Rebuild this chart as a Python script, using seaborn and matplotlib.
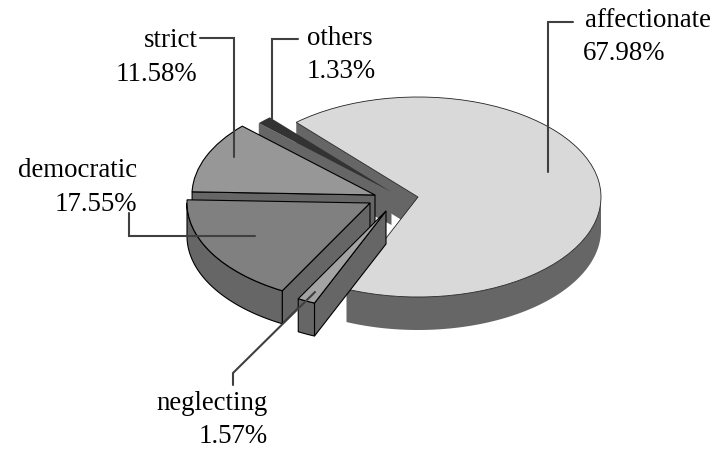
import numpy as np
import matplotlib
matplotlib.use('Agg')
import matplotlib.pyplot as plt
import seaborn as sns

labels = ['affectionate', 'others', 'strict', 'democratic', 'neglecting']
shares = [67.98, 1.33, 11.58, 17.55, 1.57]
percent_text = ['67.98%', '1.33%', '11.58%', '17.55%', '1.57%']

sns.set_theme(style='white')
plt.rcParams['font.family'] = ['Liberation Serif']

W, H = 717, 452
SQUASH = 100 / 183   # ellipse tilt
RADIUS = 183
DEPTH = 33 / SQUASH

# apex of every exploded slice in picture pixels
apex_px = {'affectionate': (418, 198), 'others': (391.5, 193), 'strict': (375, 196),
           'democratic': (370, 204), 'neglecting': (386, 212)}
top_colors = {'affectionate': '#d9d9d9', 'others': '#333333', 'strict': '#979797',
              'democratic': '#808080', 'neglecting': '#a3a3a3'}
side_color = '#666666'
draw_order = ['affectionate', 'others', 'strict', 'democratic', 'neglecting']


def yy(py):
    return (H - py) / SQUASH


def pt(x, py):
    return x, yy(py)


fig = plt.figure(figsize=(W / 100, H / 100), dpi=100)
ax = fig.add_axes([0, 0, 1, 1])
wedges, _ = ax.pie(shares, startangle=-113, counterclock=True, radius=RADIUS,
                   colors=[top_colors[k] for k in labels])
ax.set_aspect('auto')
ax.set_xlim(0, W)
ax.set_ylim(0, H / SQUASH)
ax.axis('off')


def arc(cx, cy, t1, t2):
    t = np.radians(np.linspace(t1, t2, 80))
    return cx + RADIUS * np.cos(t), cy + RADIUS * np.sin(t)


for i, name in enumerate(draw_order):
    w = wedges[labels.index(name)]
    cx, cy = pt(*apex_px[name])
    t1, t2 = w.theta1, w.theta2
    w.set_center((cx, cy))
    z = 2 + i * 3
    edged = name not in ('affectionate', 'others')
    edge_kw = dict(edgecolor='black', linewidth=0.8) if edged else dict(edgecolor='none')

    # cut face on the theta2 side
    ex = cx + RADIUS * np.cos(np.radians(t2))
    ey = cy + RADIUS * np.sin(np.radians(t2))
    ax.fill([cx, ex, ex, cx], [cy, ey, ey - DEPTH, cy - DEPTH], facecolor=side_color,
            zorder=z, **edge_kw)

    # outer rim, only where it faces the viewer
    lo, hi = t1, t2
    if name == 'affectionate':
        lo, hi = t1, 0
    elif name in ('strict', 'others'):
        lo, hi = None, None
    elif name == 'democratic':
        lo = 180
    if lo is not None:
        ax_, ay_ = arc(cx, cy, lo, hi)
        ax.fill(np.r_[ax_, ax_[::-1]], np.r_[ay_, ay_[::-1] - DEPTH], facecolor=side_color,
                zorder=z, **edge_kw)

    w.set_zorder(z + 1)
    if edged:
        w.set_edgecolor('black')
        w.set_linewidth(0.8)
    elif name == 'others':
        w.set_edgecolor('none')
    else:
        w.set_edgecolor('#222222')
        w.set_linewidth(0.6)

leaders = [
    [(548, 173), (548, 23), (573, 23)],
    [(272, 120), (272, 40), (298, 40)],
    [(234, 158), (234, 39), (200, 39)],
    [(255, 237), (129, 237), (129, 214)],
    [(315, 293), (233, 374), (233, 386)],
]
for line in leaders:
    xs = [p[0] for p in line]
    ys = [yy(p[1]) for p in line]
    ax.plot(xs, ys, color='#404040', lw=1.5, solid_joinstyle='miter', zorder=30)

text_pos = {
    'affectionate': ((585, 27), (583, 60), 'left'),
    'others': ((307, 45), (307, 78), 'left'),
    'strict': ((198, 47), (197, 81), 'right'),
    'democratic': ((137, 177), (137, 211), 'right'),
    'neglecting': ((268, 410), (268, 443), 'right'),
}
FS = 19.4
for name, pct in zip(labels, percent_text):
    p1, p2, ha = text_pos[name]
    ax.text(p1[0], yy(p1[1]), name, fontsize=FS, ha=ha, va='baseline', color='black', zorder=40)
    ax.text(p2[0], yy(p2[1]), pct, fontsize=FS, ha=ha, va='baseline', color='black', zorder=40)

fig.savefig('out.png', dpi=100, facecolor='white')
